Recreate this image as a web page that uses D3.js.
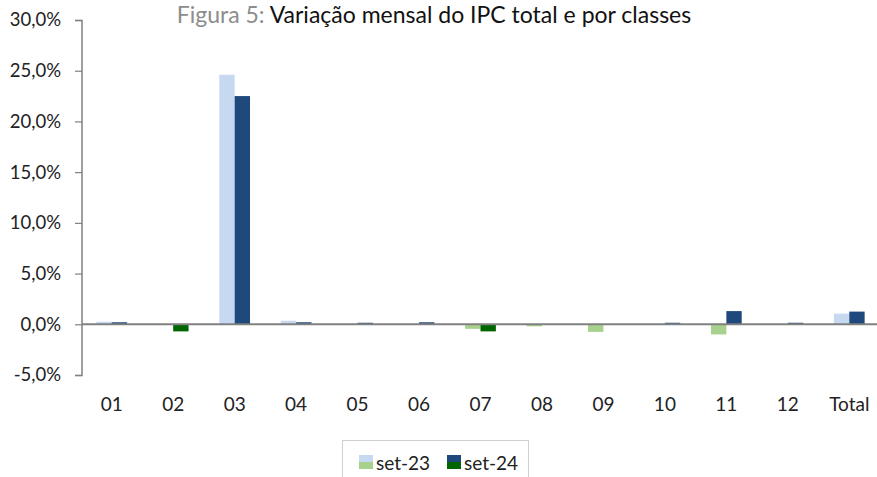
<!DOCTYPE html>
<html><head><meta charset="utf-8">
<script src="https://cdn.jsdelivr.net/npm/d3@7/dist/d3.min.js"></script>
<style>body{margin:0;background:#fff}svg{display:block;font-family:"Lato","Open Sans",sans-serif}</style>
</head><body><svg id="c" width="877" height="477"></svg>
<script>
const categories = ["01","02","03","04","05","06","07","08","09","10","11","12","Total"];
const series = ["set-23","set-24"];
const set23 = [0.25,-0.05,24.6,0.35,0.05,0.03,-0.45,-0.2,-0.75,0.05,-1.0,0.03,1.05];
const set24 = [0.2,-0.7,22.5,0.2,0.15,0.2,-0.7,-0.05,-0.05,0.15,1.3,0.15,1.25];
const yTicks = [-5,0,5,10,15,20,25,30];
const posColors = ["#c6d9f1","#1f497d"];
const negColors = ["#a9d18e","#006600"];

const svg = d3.select("#c");
const x = d3.scaleBand().domain(categories).range([81, 880]).paddingInner(0).paddingOuter(0);
const y = d3.scaleLinear().domain([-5,30]).range([375,20]);
const sub = d3.scaleBand().domain(series).range([x.bandwidth()*0.25, x.bandwidth()*0.75]);

const data = [];
categories.forEach((c,i)=>{ data.push({c,s:"set-23",v:set23[i],k:0}); data.push({c,s:"set-24",v:set24[i],k:1}); });

svg.append("g").selectAll("rect").data(data).join("rect")
  .attr("x", d=>x(d.c)+sub(d.s))
  .attr("width", sub.bandwidth())
  .attr("y", d=>y(Math.max(0,d.v)))
  .attr("height", d=>Math.abs(y(d.v)-y(0)))
  .attr("fill", d=> d.v>=0 ? posColors[d.k] : negColors[d.k]);

// y axis
const ya = svg.append("g").attr("transform","translate(82,0)")
  .call(d3.axisLeft(y).tickValues(yTicks).tickSize(7).tickPadding(14)
    .tickFormat(d=>d3.format(".1f")(d).replace(".",",").replace("−","-")+"%"));
ya.select(".domain").attr("stroke","#808080").attr("stroke-width",1.5).attr("d","M-7,20.5H0V375.5H-7");
ya.selectAll(".tick line").attr("stroke","#808080").attr("stroke-width",1.2);
ya.selectAll(".tick text").attr("font-size",18.5).attr("fill","#222").style("font-family","Lato, sans-serif");

// zero line
svg.append("line").attr("x1",82).attr("x2",877).attr("y1",y(0)).attr("y2",y(0))
  .attr("stroke","#808080").attr("stroke-width",2);

// x labels
svg.append("g").selectAll("text").data(categories).join("text")
  .attr("x", d=>x(d)+x.bandwidth()/2).attr("y",411)
  .attr("text-anchor","middle").attr("font-size",19).attr("fill","#222").text(d=>d);

// title
const t = svg.append("text").attr("x",434).attr("y",23).attr("text-anchor","middle").attr("font-size",23);
t.append("tspan").attr("fill","#8c8c8c").text("Figura 5: ");
t.append("tspan").attr("fill","#111").text("Variação mensal do IPC total e por classes");

// legend
const lg = svg.append("g");
lg.append("rect").attr("x",342.5).attr("y",440.5).attr("width",186).attr("height",50)
  .attr("fill","#fff").attr("stroke","#d0d0d0");
const lx = [359, 447];
series.forEach((s,i)=>{
  lg.append("rect").attr("x",lx[i]).attr("y",455).attr("width",14).attr("height",7).attr("fill",posColors[i]);
  lg.append("rect").attr("x",lx[i]).attr("y",462).attr("width",14).attr("height",7).attr("fill",negColors[i]);
  lg.append("text").attr("x",lx[i]+17).attr("y",470).attr("font-size",19).attr("fill","#222").text(s);
});
</script></body></html>
